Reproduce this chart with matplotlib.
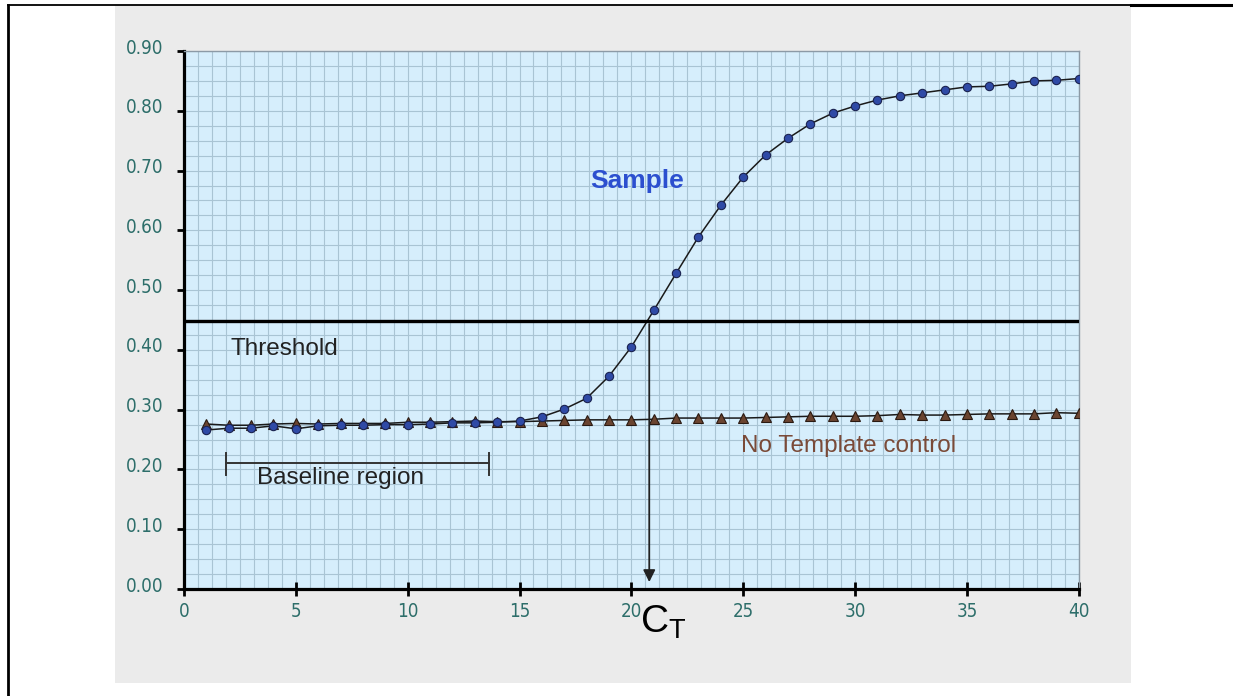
import numpy as np
import matplotlib.pyplot as plt
from matplotlib.patches import Rectangle
from matplotlib.lines import Line2D
from matplotlib.ticker import MultipleLocator, FormatStrFormatter
import matplotlib.transforms as mtransforms

# cycle numbers and fluorescence
cycles = list(range(1, 41))
sample = [0.266, 0.269, 0.269, 0.273, 0.268, 0.273, 0.274, 0.274, 0.275, 0.275,
          0.276, 0.278, 0.278, 0.279, 0.281, 0.288, 0.301, 0.319, 0.356, 0.405,
          0.466, 0.528, 0.589, 0.642, 0.689, 0.726, 0.754, 0.778, 0.796, 0.808,
          0.818, 0.825, 0.830, 0.835, 0.840, 0.841, 0.845, 0.850, 0.851, 0.854]
ntc = [0.276, 0.274, 0.274, 0.276, 0.277, 0.276, 0.277, 0.277, 0.277, 0.279,
       0.279, 0.280, 0.281, 0.280, 0.280, 0.281, 0.282, 0.283, 0.283, 0.283,
       0.284, 0.286, 0.286, 0.286, 0.286, 0.287, 0.288, 0.289, 0.289, 0.289,
       0.290, 0.292, 0.291, 0.291, 0.292, 0.293, 0.293, 0.293, 0.295, 0.294]
threshold = 0.448
ct = 20.8
baseline = (1.9, 13.65)

fig = plt.figure(figsize=(12.33, 6.96), dpi=100, facecolor="white")

# grey panel behind the chart and the black frame lines
fig.patches.append(Rectangle((0.0933, 0.0187), 0.824, 0.974, transform=fig.transFigure,
                             facecolor="#ebebeb", edgecolor="none", zorder=-1))
fig.lines.append(Line2D([0.0065, 0.0065], [0, 0.9935], transform=fig.transFigure,
                        color="black", lw=2))
fig.lines.append(Line2D([0.0065, 1], [0.9935, 0.9935], transform=fig.transFigure,
                        color="black", lw=1.3))
fig.lines.append(Line2D([0.917, 1], [0.9925, 0.9925], transform=fig.transFigure,
                        color="black", lw=2.2))

ax = fig.add_axes([0.1492, 0.1537, 0.7257, 0.773], facecolor="#d6eefc")
ax.set_zorder(1)
ax.set_xlim(0, 40)
ax.set_ylim(0, 0.9)

ax.xaxis.set_major_locator(MultipleLocator(5))
ax.xaxis.set_minor_locator(MultipleLocator(0.625))
ax.yaxis.set_major_locator(MultipleLocator(0.1))
ax.yaxis.set_minor_locator(MultipleLocator(0.025))
ax.yaxis.set_major_formatter(FormatStrFormatter("%.2f"))
ax.grid(which="both", color="#a9c4d4", lw=0.8)
ax.set_axisbelow(True)

for s in ["left", "bottom"]:
    ax.spines[s].set_linewidth(2.3)
    ax.spines[s].set_color("black")
for s in ["top", "right"]:
    ax.spines[s].set_linewidth(1.0)
    ax.spines[s].set_color("#8c9aa6")

ax.tick_params(axis="y", which="major", direction="out", length=5, width=2,
               pad=10, labelsize=13.5, labelcolor="#2d6e6a")
ax.tick_params(axis="x", which="major", direction="inout", length=10, width=2,
               pad=4, labelsize=13.5, labelcolor="#2d6e6a")
ax.tick_params(which="minor", length=0)
for lab in ax.get_yticklabels():
    lab.set_family("DejaVu Sans")
    lab.set_stretch("condensed")
    lab.set_transform(lab.get_transform() + mtransforms.ScaledTranslation(0, 5 / 100, fig.dpi_scale_trans))
for lab in ax.get_xticklabels():
    lab.set_family("DejaVu Sans")
    lab.set_stretch("condensed")

# curves
ax.plot(cycles, ntc, color="#1a1a1a", lw=1.1, marker="^", markersize=7,
        markerfacecolor="#6b4430", markeredgecolor="#2a1a12", markeredgewidth=0.8, zorder=3)
ax.plot(cycles, sample, color="#1a1a1a", lw=1.1, marker="o", markersize=6,
        markerfacecolor="#2f4aa6", markeredgecolor="#1b2350", markeredgewidth=0.8, zorder=4)

# threshold and Ct arrow
ax.axhline(threshold, color="black", lw=2.4, zorder=5)
ax.annotate("", xy=(ct, 0.007), xytext=(ct, threshold),
            arrowprops=dict(arrowstyle="-|>", color="#222222", lw=1.3, mutation_scale=18),
            zorder=5)

# baseline bracket
ax.plot([baseline[0], baseline[1]], [0.211, 0.211], color="#333333", lw=1.4, zorder=5)
for bx in baseline:
    ax.plot([bx, bx], [0.19, 0.228], color="#333333", lw=1.4, zorder=5)

txt_font = ["Liberation Sans", "DejaVu Sans"]
ax.text(2.1, 0.401, "Threshold", fontsize=17.5, color="#222222", va="center",
        family=txt_font, zorder=6)
ax.text(3.25, 0.186, "Baseline region", fontsize=17.5, color="#222222", va="center",
        family=txt_font, zorder=6)
ax.text(18.15, 0.683, "Sample", fontsize=19, color="#2c4fcf", va="center",
        fontweight="bold", family=txt_font, zorder=6)
ax.text(24.9, 0.239, "No Template control", fontsize=17.5, color="#7a4a38",
        va="center", family=txt_font, zorder=6)
ax.text(20.4, -0.055, r"$\mathregular{C_T}$", fontsize=28, color="black",
        va="center", family=txt_font, clip_on=False)

fig.savefig("out.png", dpi=100, facecolor=fig.get_facecolor())
